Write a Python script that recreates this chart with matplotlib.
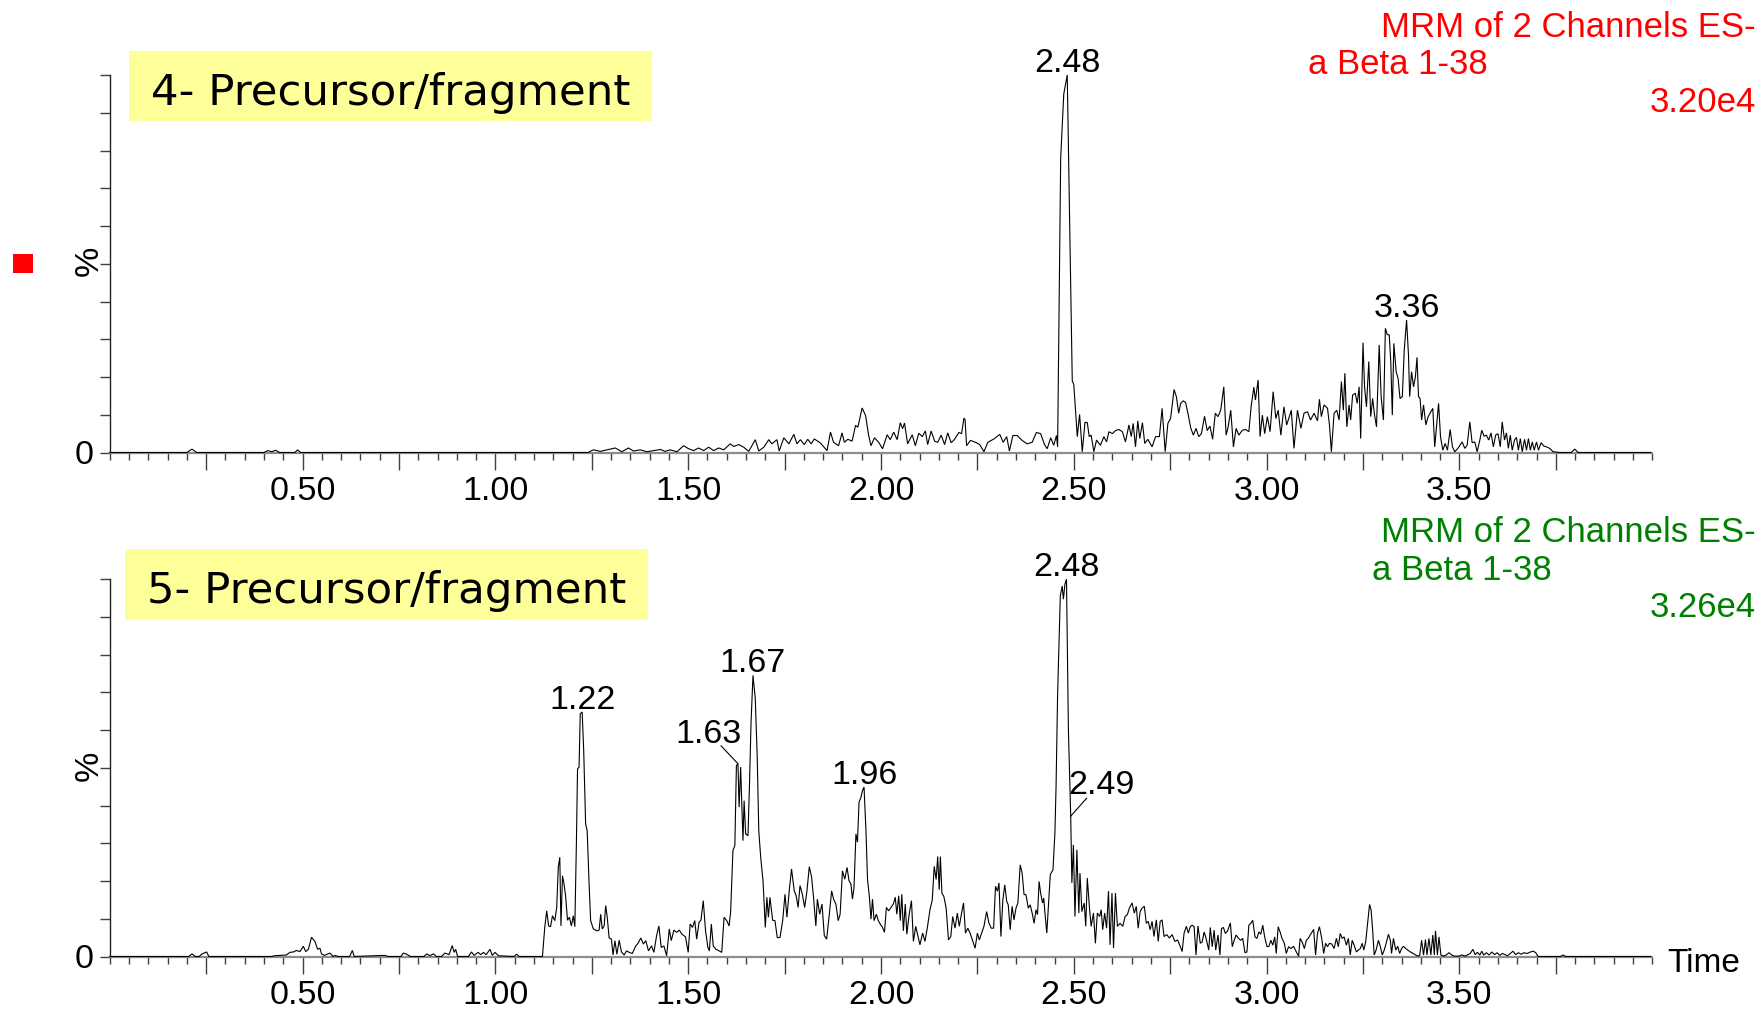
import numpy as np
import matplotlib
matplotlib.use("Agg")
import matplotlib.pyplot as plt
from matplotlib.patches import Rectangle
from matplotlib.ticker import MultipleLocator

# ---------------- data ----------------
top_time = [
    0.000, 0.200, 0.213, 0.225, 0.400, 0.410, 0.420, 0.430, 0.440, 0.480,
    0.487, 0.495, 1.240, 1.254, 1.272, 1.311, 1.328, 1.345, 1.358, 1.376,
    1.393, 1.428, 1.440, 1.453, 1.471, 1.488, 1.501, 1.514, 1.527, 1.540,
    1.553, 1.566, 1.579, 1.592, 1.609, 1.618, 1.631, 1.644, 1.657, 1.674,
    1.683, 1.696, 1.709, 1.717, 1.730, 1.736, 1.748, 1.761, 1.774, 1.782,
    1.791, 1.801, 1.810, 1.819, 1.827, 1.843, 1.860, 1.869, 1.877, 1.890,
    1.899, 1.905, 1.914, 1.925, 1.934, 1.940, 1.951, 1.960, 1.968, 1.974,
    1.983, 1.994, 2.004, 2.016, 2.024, 2.033, 2.042, 2.050, 2.056, 2.061,
    2.069, 2.081, 2.089, 2.098, 2.107, 2.115, 2.121, 2.130, 2.139, 2.147,
    2.156, 2.165, 2.173, 2.182, 2.190, 2.202, 2.209, 2.215, 2.218, 2.222,
    2.232, 2.245, 2.256, 2.267, 2.277, 2.293, 2.308, 2.317, 2.326, 2.333,
    2.342, 2.353, 2.366, 2.379, 2.392, 2.403, 2.414, 2.424, 2.431, 2.440,
    2.448, 2.455, 2.458, 2.466, 2.474, 2.483, 2.496, 2.500, 2.509, 2.515,
    2.522, 2.529, 2.535, 2.540, 2.545, 2.552, 2.559, 2.569, 2.578, 2.585,
    2.591, 2.600, 2.608, 2.617, 2.626, 2.634, 2.643, 2.649, 2.654, 2.660,
    2.666, 2.671, 2.678, 2.684, 2.692, 2.703, 2.712, 2.722, 2.729, 2.737,
    2.744, 2.751, 2.760, 2.766, 2.772, 2.777, 2.784, 2.790, 2.796, 2.803,
    2.810, 2.817, 2.824, 2.831, 2.839, 2.846, 2.853, 2.860, 2.867, 2.874,
    2.881, 2.889, 2.895, 2.900, 2.907, 2.914, 2.921, 2.928, 2.937, 2.946,
    2.954, 2.960, 2.967, 2.971, 2.978, 2.983, 2.989, 2.995, 3.002, 3.009,
    3.017, 3.024, 3.030, 3.037, 3.045, 3.052, 3.059, 3.064, 3.071, 3.080,
    3.089, 3.097, 3.106, 3.114, 3.123, 3.132, 3.137, 3.142, 3.149, 3.158,
    3.163, 3.168, 3.175, 3.182, 3.188, 3.194, 3.199, 3.203, 3.208, 3.214,
    3.218, 3.223, 3.230, 3.235, 3.240, 3.244, 3.250, 3.254, 3.259, 3.265,
    3.270, 3.275, 3.280, 3.285, 3.292, 3.297, 3.303, 3.308, 3.313, 3.318,
    3.322, 3.326, 3.330, 3.336, 3.341, 3.346, 3.352, 3.357, 3.363, 3.368,
    3.371, 3.376, 3.381, 3.386, 3.390, 3.394, 3.398, 3.402, 3.407, 3.413,
    3.419, 3.426, 3.431, 3.436, 3.446, 3.451, 3.457, 3.463, 3.469, 3.476,
    3.482, 3.488, 3.496, 3.507, 3.514, 3.520, 3.527, 3.533, 3.540, 3.546,
    3.553, 3.558, 3.564, 3.570, 3.576, 3.582, 3.588, 3.594, 3.600, 3.606,
    3.611, 3.617, 3.622, 3.627, 3.632, 3.637, 3.643, 3.648, 3.653, 3.658,
    3.663, 3.669, 3.674, 3.679, 3.684, 3.689, 3.694, 3.700, 3.705, 3.712,
    3.719, 3.726, 3.734, 3.743, 3.760, 3.790, 3.799, 3.808, 3.996,
]
top_pct = [
    0, 0, 0.9, 0, 0, 0.5, 0.2, 0.6, 0, 0,
    0.7, 0, 0, 0.7, 0.3, 1.2, 0.2, 1.2, 0.4, 0.7,
    0.2, 0.8, 0.3, 0.7, 0.2, 1.8, 1.0, 0.5, 1.2, 0.5,
    1.4, 0.5, 1.2, 0.7, 2.3, 1.6, 2.1, 1.4, 0.3, 3.4,
    0.4, 1.4, 3.4, 2.3, 3.4, 0.4, 3.9, 2.3, 4.8, 2.3,
    3.4, 2.1, 3.5, 2.3, 3.6, 2.5, 0.5, 5.4, 2.7, 1.8,
    5.2, 2.7, 3.5, 3.0, 7.2, 6.7, 11.8, 9.8, 4.5, 1.8,
    3.9, 2.7, 1.0, 4.7, 3.4, 5.4, 3.4, 7.9, 6.3, 7.8,
    2.3, 4.7, 1.8, 5.1, 4.2, 5.7, 2.1, 5.7, 3.0, 2.7,
    4.6, 2.1, 5.2, 2.6, 3.4, 5.3, 5.0, 9.1, 8.7, 1.8,
    3.2, 2.7, 2.1, 0.2, 2.7, 3.6, 4.8, 2.7, 4.2, 0.4,
    4.5, 4.5, 3.2, 2.3, 2.7, 5.3, 5.0, 2.1, 1.0, 3.9,
    1.9, 4.5, 1.5, 78, 95, 100, 19, 18, 4.2, 10.1,
    0.2, 8.0, 7.9, 4.2, 4.6, 0.2, 3.3, 1.9, 4.2, 2.8,
    5.5, 5.0, 5.8, 6.1, 5.5, 2.8, 7.3, 4.2, 7.7, 1.5,
    8.4, 3.7, 7.9, 2.4, 3.5, 1.5, 4.2, 4.2, 11.7, 0.2,
    7.7, 9.0, 16.7, 14.8, 10.4, 13.0, 13.7, 13.2, 10.4, 6.6,
    4.6, 6.4, 4.2, 5.0, 9.6, 5.8, 7.0, 3.5, 10.4, 9.5,
    11.2, 17.4, 4.6, 6.6, 11.2, 1.5, 6.4, 4.6, 5.9, 6.1,
    5.5, 12.3, 17.3, 13.9, 19.2, 4.2, 9.9, 5.0, 9.5, 5.5,
    16.1, 9.0, 11.2, 4.6, 12.1, 7.3, 9.5, 11.2, 1.1, 11.2,
    6.4, 10.4, 10.8, 8.6, 10.4, 8.4, 14.1, 9.5, 12.6, 11.7,
    7.3, 0.2, 10.4, 11.2, 8.6, 18.8, 11.2, 21.0, 6.8, 12.6,
    8.6, 15.2, 15.7, 13.0, 17.4, 3.7, 29.1, 17.4, 12.1, 24.1,
    9.5, 14.3, 9.9, 6.8, 28.5, 14.8, 8.6, 32.9, 31.2, 31.2,
    24.1, 9.9, 28.9, 21.4, 19.6, 14.3, 14.8, 27.2, 35.1, 25.8,
    14.8, 21.4, 17.4, 20.1, 25.2, 14.8, 14.3, 8.6, 12.6, 7.3,
    9.5, 10.8, 11.7, 1.5, 13.0, 4.2, 0.6, 2.4, 0.6, 6.1,
    1.5, 0.2, 1.1, 2.8, 1.1, 1.9, 8.1, 2.6, 2.8, 0.2,
    3.3, 5.9, 4.3, 4.6, 3.3, 5.2, 1.5, 4.6, 5.0, 1.5,
    8.1, 3.3, 5.2, 1.1, 4.6, 0.6, 3.3, 4.0, 0.6, 3.7,
    0.2, 3.5, 0.6, 3.7, 0.6, 2.8, 0.6, 2.8, 0.6, 2.6,
    1.7, 1.5, 1.1, 0.2, 0, 0, 0.9, 0, 0,
]

bot_time = [
    0.000, 0.205, 0.213, 0.222, 0.232, 0.238, 0.251, 0.257, 0.419, 0.428,
    0.458, 0.467, 0.476, 0.484, 0.493, 0.502, 0.508, 0.515, 0.523, 0.532,
    0.539, 0.545, 0.549, 0.556, 0.571, 0.579, 0.584, 0.592, 0.622, 0.629,
    0.634, 0.713, 0.722, 0.755, 0.761, 0.770, 0.780, 0.815, 0.822, 0.830,
    0.839, 0.847, 0.860, 0.869, 0.880, 0.888, 0.893, 0.897, 0.902, 0.930,
    0.938, 0.945, 0.955, 0.962, 0.969, 0.976, 0.986, 0.992, 0.999, 1.008,
    1.048, 1.055, 1.062, 1.122, 1.128, 1.133, 1.138, 1.143, 1.148, 1.154,
    1.159, 1.163, 1.167, 1.170, 1.174, 1.178, 1.182, 1.187, 1.192, 1.197,
    1.202, 1.206, 1.210, 1.213, 1.217, 1.220, 1.225, 1.229, 1.234, 1.238,
    1.243, 1.247, 1.254, 1.263, 1.269, 1.273, 1.277, 1.282, 1.286, 1.290,
    1.295, 1.301, 1.305, 1.310, 1.315, 1.321, 1.327, 1.334, 1.340, 1.347,
    1.355, 1.364, 1.370, 1.377, 1.384, 1.390, 1.397, 1.405, 1.411, 1.418,
    1.424, 1.430, 1.437, 1.444, 1.451, 1.456, 1.463, 1.470, 1.477, 1.484,
    1.493, 1.500, 1.505, 1.511, 1.517, 1.522, 1.528, 1.533, 1.539, 1.545,
    1.551, 1.555, 1.560, 1.565, 1.572, 1.580, 1.587, 1.593, 1.600, 1.606,
    1.610, 1.616, 1.621, 1.625, 1.629, 1.632, 1.636, 1.639, 1.642, 1.645,
    1.649, 1.655, 1.659, 1.663, 1.668, 1.674, 1.679, 1.683, 1.688, 1.694,
    1.700, 1.704, 1.708, 1.712, 1.719, 1.725, 1.731, 1.738, 1.745, 1.751,
    1.756, 1.762, 1.768, 1.775, 1.780, 1.785, 1.790, 1.796, 1.802, 1.808,
    1.814, 1.820, 1.825, 1.831, 1.835, 1.841, 1.847, 1.853, 1.859, 1.866,
    1.872, 1.877, 1.883, 1.889, 1.894, 1.900, 1.906, 1.912, 1.917, 1.922,
    1.926, 1.930, 1.935, 1.939, 1.943, 1.948, 1.952, 1.956, 1.961, 1.965,
    1.970, 1.974, 1.978, 1.982, 1.988, 1.993, 1.998, 2.004, 2.009, 2.014,
    2.020, 2.026, 2.032, 2.037, 2.041, 2.046, 2.050, 2.054, 2.058, 2.063,
    2.067, 2.073, 2.079, 2.084, 2.090, 2.096, 2.101, 2.108, 2.114, 2.120,
    2.127, 2.133, 2.138, 2.143, 2.147, 2.151, 2.154, 2.158, 2.163, 2.169,
    2.175, 2.181, 2.186, 2.192, 2.198, 2.203, 2.209, 2.214, 2.219, 2.225,
    2.231, 2.237, 2.244, 2.250, 2.255, 2.261, 2.267, 2.274, 2.280, 2.286,
    2.292, 2.297, 2.302, 2.306, 2.311, 2.316, 2.321, 2.326, 2.330, 2.335,
    2.340, 2.345, 2.350, 2.355, 2.361, 2.366, 2.371, 2.376, 2.382, 2.387,
    2.392, 2.397, 2.402, 2.406, 2.410, 2.414, 2.419, 2.422, 2.426, 2.430,
    2.435, 2.439, 2.446, 2.451, 2.454, 2.458, 2.465, 2.470, 2.473, 2.477,
    2.481, 2.486, 2.492, 2.495, 2.499, 2.503, 2.508, 2.513, 2.516, 2.521,
    2.527, 2.531, 2.535, 2.541, 2.545, 2.551, 2.556, 2.561, 2.567, 2.571,
    2.575, 2.580, 2.585, 2.590, 2.594, 2.599, 2.603, 2.608, 2.613, 2.620,
    2.627, 2.633, 2.639, 2.644, 2.651, 2.657, 2.662, 2.667, 2.672, 2.677,
    2.683, 2.688, 2.693, 2.698, 2.703, 2.708, 2.714, 2.719, 2.724, 2.729,
    2.734, 2.741, 2.748, 2.755, 2.762, 2.769, 2.776, 2.781, 2.786, 2.792,
    2.797, 2.802, 2.807, 2.812, 2.817, 2.822, 2.828, 2.833, 2.838, 2.843,
    2.850, 2.854, 2.859, 2.864, 2.868, 2.874, 2.879, 2.883, 2.888, 2.893,
    2.899, 2.906, 2.911, 2.916, 2.921, 2.927, 2.933, 2.938, 2.944, 2.949,
    2.954, 2.959, 2.964, 2.970, 2.975, 2.980, 2.985, 2.990, 2.995, 3.001,
    3.006, 3.011, 3.016, 3.021, 3.025, 3.030, 3.035, 3.040, 3.046, 3.051,
    3.057, 3.063, 3.070, 3.077, 3.083, 3.087, 3.092, 3.098, 3.103, 3.108,
    3.113, 3.118, 3.122, 3.127, 3.132, 3.137, 3.143, 3.148, 3.153, 3.158,
    3.163, 3.169, 3.175, 3.181, 3.186, 3.191, 3.196, 3.201, 3.207, 3.212,
    3.217, 3.222, 3.227, 3.233, 3.238, 3.243, 3.248, 3.252, 3.257, 3.262,
    3.267, 3.271, 3.275, 3.279, 3.284, 3.290, 3.295, 3.300, 3.305, 3.310,
    3.316, 3.321, 3.324, 3.329, 3.335, 3.340, 3.345, 3.350, 3.355, 3.361,
    3.366, 3.373, 3.380, 3.387, 3.392, 3.397, 3.402, 3.407, 3.412, 3.416,
    3.421, 3.426, 3.431, 3.435, 3.438, 3.443, 3.447, 3.452, 3.459, 3.466,
    3.473, 3.480, 3.487, 3.498, 3.507, 3.515, 3.528, 3.535, 3.541, 3.547,
    3.553, 3.558, 3.563, 3.570, 3.577, 3.584, 3.591, 3.598, 3.605, 3.611,
    3.618, 3.625, 3.632, 3.639, 3.646, 3.653, 3.660, 3.667, 3.676, 3.684,
    3.692, 3.698, 3.704, 3.762, 3.769, 3.776, 3.996,
]
bot_pct = [
    0, 0, 0.7, 0, 0, 0.6, 1.2, 0, 0, 0.2,
    0.4, 1.1, 1.2, 1.6, 1.3, 2.7, 1.3, 1.9, 5.1, 4.0,
    1.9, 2.2, 0.7, 0.3, 0.9, 0, 0.3, 0, 0, 1.6,
    0, 0.3, 0, 0, 0.9, 0.6, 0, 0, 0.7, 0.2,
    0.7, 0, 0, 0.9, 0.5, 2.9, 1.1, 1.9, 0, 0,
    1.2, 0.3, 1.1, 0.5, 1.1, 0.5, 1.9, 0.3, 1.1, 0.2,
    0, 0.6, 0, 0, 7.7, 12.1, 8.1, 7.9, 10.8, 9.5,
    13.0, 23.6, 26.3, 8.1, 21.4, 19.2, 16.1, 9.6, 10.4, 8.1,
    10.8, 7.9, 29.8, 49.7, 50.2, 64.3, 64.8, 54.6, 35.1, 33.4,
    19.2, 9.5, 7.3, 6.8, 7.0, 11.2, 7.3, 8.1, 13.5, 10.4,
    4.9, 4.6, 0.4, 4.2, 0.6, 4.3, 1.2, 0.4, 1.5, 1.1,
    0.8, 2.8, 3.5, 4.9, 3.3, 4.2, 1.5, 2.8, 1.1, 5.5,
    8.1, 2.4, 2.8, 0.2, 7.3, 4.2, 7.0, 6.4, 7.0, 5.9,
    5.2, 1.1, 8.6, 7.7, 9.5, 4.6, 9.0, 9.6, 14.8, 6.8,
    2.4, 1.5, 8.6, 2.8, 1.9, 1.5, 1.1, 10.4, 9.5, 8.1,
    11.7, 28.1, 29.4, 50.6, 51.1, 39.6, 50.2, 40.0, 30.7, 41.3,
    32.5, 32.0, 45.8, 62.1, 74.5, 68.3, 52.8, 33.4, 26.3, 20.1,
    7.7, 15.7, 10.4, 15.7, 9.6, 9.5, 5.0, 5.0, 9.5, 16.5,
    10.4, 17.4, 23.2, 17.4, 16.1, 13.0, 18.8, 16.5, 13.0, 17.4,
    23.8, 21.0, 15.7, 8.1, 15.2, 11.2, 13.9, 5.5, 4.6, 11.2,
    17.4, 15.2, 13.9, 9.5, 11.2, 22.7, 20.5, 23.6, 20.1, 19.2,
    15.2, 18.3, 32.5, 30.3, 40.9, 42.2, 44.0, 44.9, 33.4, 20.5,
    15.7, 9.9, 15.2, 9.5, 11.2, 9.5, 8.6, 7.7, 6.4, 13.0,
    12.1, 13.0, 13.9, 15.7, 11.2, 16.1, 9.5, 16.5, 6.8, 13.9,
    5.9, 11.2, 14.8, 4.0, 8.0, 5.3, 3.1, 6.2, 4.0, 7.5,
    12.4, 15.0, 23.9, 20.4, 26.5, 17.7, 26.5, 16.8, 15.9, 12.8,
    4.4, 5.3, 10.6, 7.5, 11.5, 8.0, 11.5, 14.2, 6.2, 7.5,
    6.2, 4.4, 2.2, 6.2, 4.4, 6.2, 8.0, 11.9, 8.8, 7.5,
    7.5, 18.6, 17.3, 19.5, 5.3, 15.0, 19.0, 14.6, 13.7, 7.1,
    13.3, 9.7, 12.8, 14.2, 24.3, 22.1, 16.4, 16.4, 12.8, 13.7,
    11.5, 8.8, 12.4, 11.1, 19.9, 16.8, 14.2, 15.5, 10.6, 6.2,
    15.0, 21.7, 23.0, 32.7, 45.1, 69.5, 95.6, 98.2, 94.7, 98.7,
    100, 60, 37.2, 19.5, 29.6, 10.6, 28.3, 11.5, 22.1, 11.9,
    14.2, 8.0, 20.8, 12.4, 8.0, 11.5, 3.5, 11.5, 10.6, 12.4,
    7.1, 11.5, 7.5, 17.3, 3.1, 16.8, 2.2, 16.8, 8.0, 8.8,
    8.0, 10.6, 11.1, 12.8, 14.2, 11.5, 13.3, 7.5, 11.9, 12.8,
    13.3, 8.8, 9.3, 7.1, 9.3, 5.3, 9.7, 4.0, 9.3, 9.7,
    5.3, 5.8, 4.9, 5.8, 4.0, 4.4, 2.7, 1.3, 6.2, 8.0,
    6.2, 7.9, 8.3, 7.9, 0.4, 8.1, 3.5, 3.9, 6.5, 4.8,
    1.7, 7.7, 2.6, 7.0, 1.7, 5.7, 0.4, 7.4, 7.7, 6.1,
    6.8, 8.9, 2.6, 4.3, 5.7, 4.8, 4.3, 4.8, 1.0, 1.2,
    8.3, 8.8, 9.6, 5.2, 4.8, 6.5, 5.9, 8.3, 5.2, 2.6,
    2.7, 4.3, 3.0, 5.2, 0.8, 7.9, 6.5, 4.8, 3.5, 0.8,
    2.6, 2.1, 2.7, 1.2, 0.1, 4.8, 3.9, 2.1, 4.3, 4.8,
    5.7, 6.5, 7.2, 0.4, 6.1, 7.9, 4.8, 0.8, 3.5, 2.6,
    3.5, 3.3, 2.1, 4.8, 2.6, 6.1, 4.8, 5.2, 3.0, 4.8,
    0.4, 4.3, 3.0, 1.2, 1.7, 2.1, 3.5, 1.7, 3.9, 8.8,
    13.8, 12.3, 7.0, 0.4, 1.7, 4.3, 2.6, 0.4, 1.7, 3.5,
    5.9, 4.3, 0.8, 4.8, 1.7, 2.7, 0.8, 2.1, 2.7, 2.1,
    1.7, 1.2, 0.8, 0.4, 0.1, 0.3, 4.3, 0.4, 4.5, 0.4,
    4.8, 0.4, 5.7, 0.4, 6.8, 0.4, 5.2, 0.4, 0.1, 0.4,
    1.0, 0.4, 0.1, 0.1, 0.4, 0.1, 0.8, 1.9, 0.5, 1.1,
    0.4, 1.4, 0.4, 1.0, 0.4, 1.2, 0.5, 1.0, 0.3, 0.8,
    0.5, 0.2, 0.8, 1.4, 0.5, 1.0, 0.6, 1.0, 0.8, 1.2,
    1.4, 1.0, 0, 0, 0.4, 0, 0,
]

# peak labels: (text, retention time the label marks)
top_peak_labels = ["2.48", "3.36"]
top_peak_times = [2.483, 3.363]
bot_peak_labels = ["1.22", "1.67", "1.96", "2.48"]
bot_peak_times = [1.225, 1.668, 1.956, 2.481]
# labels drawn with a leader line
bot_leader_labels = ["1.63", "2.49"]
bot_leader_times = [1.629, 2.492]

x_tick_labels = ["0.50", "1.00", "1.50", "2.00", "2.50", "3.00", "3.50"]
header_line1 = "MRM of 2 Channels ES-"
header_line2 = "a Beta 1-38"
top_scale = "3.20e4"
bot_scale = "3.26e4"
top_title = "4- Precursor/fragment"
bot_title = "5- Precursor/fragment"

# ---------------- figure ----------------
W, H = 1761, 1010
DPI = 100
fig = plt.figure(figsize=(W / DPI, H / DPI), dpi=DPI)
PX = 72.0 / DPI  # points per pixel

ARIAL = "Liberation Sans"
FS = 24.5


def fx(px):
    return px / W


def fy(py):
    return 1 - py / H


def setup_axes(ax):
    ax.set_xlim(0, 4.0)
    ax.set_ylim(0, 100)
    for s in ("top", "right"):
        ax.spines[s].set_visible(False)
    ax.spines["left"].set_color("#202020")
    ax.spines["left"].set_linewidth(1.0)
    ax.spines["bottom"].set_color("#8c8c8c")
    ax.spines["bottom"].set_linewidth(1.6)
    ax.xaxis.set_minor_locator(MultipleLocator(0.05))
    majors = np.arange(0.25, 3.76, 0.25)
    ax.set_xticks(majors)
    lab = {float(s): s for s in x_tick_labels}
    ax.set_xticklabels([lab.get(round(m, 2), "") for m in majors],
                       fontfamily=ARIAL, fontsize=FS)
    ax.tick_params(axis="x", which="major", length=12, width=1.0,
                   color="#404040", pad=5)
    ax.tick_params(axis="x", which="minor", length=5, width=1.0,
                   color="#404040")
    yt = np.arange(0, 101, 10)
    ax.set_yticks(yt)
    ax.set_yticklabels(["0"] + [""] * 10, fontfamily=ARIAL, fontsize=FS)
    ax.tick_params(axis="y", which="major", length=7, width=1.0,
                   color="#404040", pad=5)
    ax.set_facecolor("none")


left = fx(109.8)
width = 4 * 385.6 / W
ax_top = fig.add_axes([left, 1 - 452.5 / H, width, 377.5 / H])
ax_bot = fig.add_axes([left, 1 - 956.5 / H, width, 377.3 / H])

for ax, t, v in ((ax_top, top_time, top_pct), (ax_bot, bot_time, bot_pct)):
    setup_axes(ax)
    ax.plot(t, v, color="black", lw=0.8, clip_on=False, zorder=3,
            solid_joinstyle="miter")


# peak labels
def label_peaks(ax, t, v, labels, times):
    for lab, tt in zip(labels, times):
        yy = float(np.interp(tt, t, v))
        ax.annotate(lab, xy=(tt, yy), xytext=(0, 3 * PX), textcoords="offset points",
                    ha="center", va="baseline", fontfamily=ARIAL, fontsize=FS,
                    zorder=5)


label_peaks(ax_top, top_time, top_pct, top_peak_labels, top_peak_times)
label_peaks(ax_bot, bot_time, bot_pct, bot_peak_labels, bot_peak_times)

# leader-line labels: (leader end offset px, text baseline-centre offset px)
leader_geom = [((-17, 18), (-29, 21)), ((16, 18), (31, 22))]
for lab, tt, (lend, toff) in zip(bot_leader_labels, bot_leader_times, leader_geom):
    yy = float(np.interp(tt, bot_time, bot_pct))
    ax_bot.annotate("", xy=(tt, yy), xytext=(lend[0] * PX, lend[1] * PX),
                    textcoords="offset points",
                    arrowprops=dict(arrowstyle="-", lw=0.8, color="black",
                                    shrinkA=0, shrinkB=0))
    ax_bot.annotate(lab, xy=(tt, yy), xytext=(toff[0] * PX, toff[1] * PX),
                    textcoords="offset points", ha="center", va="baseline",
                    fontfamily=ARIAL, fontsize=FS, zorder=5)

# title boxes
for (x0, y0, x1, y1), txt, (tx, tyb) in (
        ((129, 51, 652, 121), top_title, (391, 105)),
        ((125, 549, 648, 620), bot_title, (387, 602.7))):
    fig.patches.append(Rectangle((fx(x0), fy(y1)), fx(x1 - x0), (y1 - y0) / H,
                                 transform=fig.transFigure, facecolor="#FFFF99",
                                 edgecolor="none", zorder=0))
    fig.text(fx(tx), fy(tyb), txt, ha="center", va="baseline",
             fontfamily="DejaVu Sans", fontsize=31.3, color="black")

# header texts
HFS = 25
for col, ys, xb, sc in (("#FF0000", (36.7, 74.5, 112.3), 1308, top_scale),
                        ("#008000", (541.7, 579.8, 616.7), 1372, bot_scale)):
    fig.text(fx(1756), fy(ys[0]), header_line1, ha="right", va="baseline",
             color=col, fontfamily=ARIAL, fontsize=HFS)
    fig.text(fx(xb), fy(ys[1]), header_line2, ha="left", va="baseline",
             color=col, fontfamily=ARIAL, fontsize=HFS)
    fig.text(fx(1756), fy(ys[2]), sc, ha="right", va="baseline",
             color=col, fontfamily=ARIAL, fontsize=HFS)

# % labels
for yc in (261, 766):
    fig.text(fx(89.5), fy(yc), "%", rotation=90, ha="center", va="center",
             fontfamily=ARIAL, fontsize=FS)

# Time label
fig.text(fx(1704), fy(971.7), "Time", ha="center", va="baseline",
         fontfamily=ARIAL, fontsize=24)

# red marker square
fig.patches.append(Rectangle((fx(13), fy(273)), fx(20), 19 / H,
                             transform=fig.transFigure, facecolor="#FF0000",
                             edgecolor="none"))

fig.savefig("out.png", dpi=DPI)
